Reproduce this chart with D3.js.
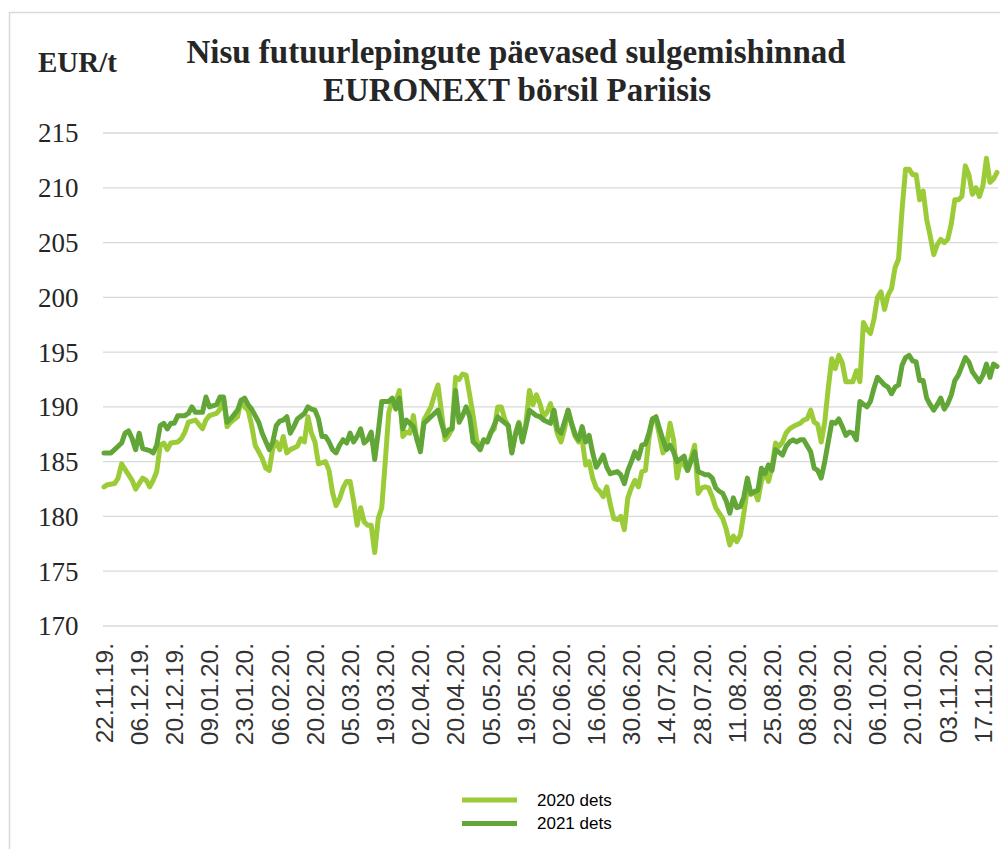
<!DOCTYPE html>
<html>
<head>
<meta charset="utf-8">
<script src="https://cdn.jsdelivr.net/npm/d3@7"></script>
<style>
  html, body { margin: 0; padding: 0; background: #fff; }
  svg { display: block; }
</style>
</head>
<body>
<svg id="chart" width="1000" height="849"></svg>
<script>
// ---- DATA (trading-day index, EUR/t) ----
const titleLines = ["Nisu futuurlepingute päevased sulgemishinnad", "EURONEXT börsil Pariisis"];
const unitLabel = "EUR/t";
const seriesNames = ["2020 dets", "2021 dets"];
const yTicks = [170, 175, 180, 185, 190, 195, 200, 205, 210, 215];
const xTickDays = [0,10,20,30,40,50,60,70,80,90,100,110,120,130,140,150,160,170,180,190,200,210,220,230,240,250];
const xTickLabels = ["22.11.19.","06.12.19.","20.12.19.","09.01.20.","23.01.20.","06.02.20.","20.02.20.","05.03.20.","19.03.20.","02.04.20.","20.04.20.","05.05.20.","19.05.20.","02.06.20.","16.06.20.","30.06.20.","14.07.20.","28.07.20.","11.08.20.","25.08.20.","08.09.20.","22.09.20.","06.10.20.","20.10.20.","03.11.20.","17.11.20."];
const lastDay = 254;

const dets2020 = [
 [0,182.7],[1,182.9],[3,183.0],[4,183.5],[5,184.8],[6,184.3],[8,183.3],[9,182.5],[10,183.0],[11,183.5],
 [12,183.3],[13,182.7],[14,183.3],[15,184.1],[16,186.5],[17,186.7],[18,186.1],[19,186.7],[21,186.8],[22,187.1],
 [23,187.7],[24,188.6],[26,188.8],[28,188.0],[29,188.8],[30,189.2],[32,189.4],[33,189.8],[34,190.8],[35,188.2],
 [36,188.6],[38,189.1],[39,190.6],[40,190.0],[41,189.7],[42,188.3],[43,186.5],[45,185.3],[46,184.4],[47,184.2],
 [48,186.2],[49,186.8],[50,186.1],[51,187.3],[52,185.8],[53,186.1],[55,186.4],[56,187.1],[57,186.8],[58,189.1],
 [59,187.6],[60,186.8],[61,184.8],[63,185.0],[64,184.2],[65,182.2],[66,181.0],[67,181.6],[68,182.6],[69,183.2],
 [70,183.2],[71,181.4],[72,179.2],[73,180.8],[74,179.5],[75,179.2],[76,179.2],[77,176.7],[78,179.8],[79,180.8],
 [80,185.0],[81,189.5],[82,190.6],[83,190.5],[84,191.5],[85,187.3],[86,187.7],[87,187.6],[88,189.2],[89,187.0],
 [90,186.2],[91,188.8],[93,190.0],[94,191.1],[95,192.0],[96,189.5],[97,187.0],[98,187.4],[99,188.0],[100,192.7],
 [101,192.5],[102,193.0],[103,192.9],[104,191.1],[105,189.2],[106,187.0],[107,186.1],[108,187.0],[109,186.8],[110,187.7],
 [111,188.0],[112,190.0],[113,190.0],[114,188.9],[115,188.2],[116,185.9],[117,187.6],[118,188.6],[119,187.0],[120,188.5],
 [121,191.5],[122,190.2],[123,191.1],[124,190.3],[125,189.1],[126,189.5],[127,190.3],[128,188.9],[129,187.5],[130,186.8],
 [131,188.0],[132,189.7],[133,188.4],[134,187.3],[135,186.8],[136,187.0],[137,184.7],[138,185.0],[139,183.5],[140,182.6],
 [141,182.3],[142,181.8],[143,182.7],[144,181.1],[145,179.8],[146,179.7],[147,180.0],[148,178.8],[149,181.7],[150,182.6],
 [151,183.3],[152,182.7],[153,184.1],[154,184.2],[155,187.1],[156,188.9],[157,188.9],[158,187.4],[159,185.8],[160,186.5],
 [161,188.5],[162,187.0],[163,183.5],[164,185.2],[165,184.7],[166,184.2],[168,186.5],[169,182.1],[170,182.6],[171,182.7],
 [172,182.6],[173,181.8],[174,180.8],[175,180.3],[176,179.8],[177,178.8],[178,177.4],[179,178.2],[180,177.7],[181,178.3],
 [182,180.3],[183,182.6],[184,182.0],[185,182.3],[186,181.5],[187,183.2],[188,184.1],[189,183.2],[190,184.5],[191,186.7],
 [192,186.4],[193,186.8],[194,187.6],[195,188.0],[196,188.2],[198,188.5],[199,188.8],[200,188.9],[201,189.7],[202,188.6],
 [203,188.4],[204,186.8],[205,188.6],[206,191.7],[207,194.4],[208,193.5],[209,194.7],[210,194.0],[211,192.3],[212,192.3],
 [213,192.3],[214,193.3],[215,192.3],[216,197.7],[217,197.1],[218,196.7],[219,198.0],[220,200.0],[221,200.5],[222,198.9],
 [223,200.2],[224,200.8],[225,202.7],[226,203.5],[227,208.0],[228,211.7],[229,211.7],[230,211.2],[231,211.2],[232,208.9],
 [233,209.7],[234,207.1],[235,205.6],[236,203.9],[237,204.8],[238,205.3],[239,205.0],[240,205.3],[241,206.7],[242,208.9],
 [243,208.9],[244,209.2],[245,212.0],[246,211.2],[247,209.4],[248,210.0],[249,209.2],[250,210.2],[251,212.7],[252,210.5],
 [253,210.8],[254,211.4]
];

const dets2021 = [
 [0,185.8],[2,185.8],[3,186.1],[5,186.7],[6,187.6],[7,187.8],[8,187.1],[9,186.1],[10,187.6],[11,186.2],
 [12,186.1],[13,186.0],[14,185.8],[15,186.5],[16,188.3],[17,188.5],[18,188.0],[19,188.5],[20,188.5],[21,189.2],
 [23,189.2],[24,189.4],[25,190.0],[26,189.5],[28,189.5],[29,190.9],[30,190.0],[32,190.2],[33,190.9],[34,190.9],
 [35,188.6],[36,188.9],[38,189.7],[39,190.6],[40,190.8],[41,190.2],[42,189.8],[44,188.6],[45,187.6],[47,186.1],
 [48,186.8],[49,188.3],[50,188.7],[51,188.8],[52,189.1],[53,187.6],[54,188.2],[55,188.9],[57,189.4],[58,190.0],
 [59,189.8],[60,189.7],[61,188.9],[62,187.3],[63,187.3],[64,186.8],[65,186.1],[66,185.8],[67,186.5],[68,187.0],
 [69,186.7],[70,187.6],[71,186.8],[72,187.3],[73,188.0],[74,186.7],[75,187.0],[76,187.7],[77,185.2],[78,187.7],
 [79,190.5],[81,190.5],[82,190.8],[83,189.8],[84,190.8],[85,188.0],[86,188.8],[87,188.5],[88,188.2],[90,185.9],
 [91,188.5],[93,189.1],[95,189.7],[96,188.5],[97,187.4],[98,187.9],[99,188.0],[100,191.5],[101,188.6],[102,189.2],
 [103,190.0],[104,189.1],[105,186.8],[106,186.5],[107,186.1],[108,187.0],[109,186.8],[110,187.6],[112,189.1],[113,188.8],
 [115,188.3],[116,185.8],[117,187.4],[118,188.5],[119,186.8],[120,188.2],[121,189.7],[123,189.2],[124,189.1],[125,188.8],
 [127,188.5],[128,189.7],[129,187.9],[130,187.6],[132,189.7],[133,188.5],[134,187.5],[135,187.0],[136,188.2],[137,186.8],
 [138,187.4],[139,185.8],[140,184.5],[141,185.0],[142,185.6],[143,184.5],[144,183.9],[146,184.1],[147,183.8],[148,183.0],
 [149,184.2],[150,185.0],[151,185.9],[152,185.3],[153,186.5],[154,186.6],[155,187.6],[156,188.9],[157,189.1],[158,188.0],
 [159,187.0],[160,186.1],[161,186.5],[162,185.9],[163,185.0],[165,185.5],[166,184.2],[168,185.9],[169,184.1],[171,183.8],
 [172,183.8],[173,183.5],[174,182.6],[175,182.3],[176,182.1],[177,181.4],[178,180.3],[179,181.7],[180,180.8],[181,180.9],
 [182,181.8],[183,183.5],[184,182.1],[186,182.4],[187,184.4],[188,183.9],[189,184.7],[190,184.2],[191,186.1],[193,185.6],
 [194,186.4],[195,186.8],[196,187.0],[197,186.8],[198,187.0],[199,187.0],[201,185.9],[202,184.4],[203,184.2],[204,183.5],
 [205,185.0],[206,186.8],[207,188.6],[208,188.5],[209,188.9],[210,188.2],[211,187.4],[212,187.7],[213,187.6],[214,187.0],
 [215,190.5],[217,190.0],[218,190.5],[219,191.7],[220,192.7],[222,192.0],[223,191.8],[224,191.2],[225,191.8],[226,192.0],
 [227,193.8],[228,194.5],[229,194.7],[230,194.2],[231,194.1],[232,192.4],[233,192.4],[234,190.8],[235,190.2],[236,189.7],
 [237,190.2],[238,190.8],[239,189.8],[240,190.3],[241,191.1],[242,192.4],[243,192.9],[245,194.5],[246,194.1],[247,193.2],
 [249,192.3],[250,192.9],[251,193.9],[252,192.7],[253,193.9],[254,193.7]
];

// ---- STYLE ----
const colors = ["#9BCC38", "#63A638"];

const svg = d3.select("#chart");

// chart border
svg.append("rect")
  .attr("x", 9.5).attr("y", 12.5)
  .attr("width", 1100).attr("height", 1000)
  .attr("fill", "none").attr("stroke", "#D9D9D9").attr("stroke-width", 1.5);

const x = d3.scaleLinear().domain([0, lastDay]).range([104, 997]);
const y = d3.scaleLinear().domain([170, 215]).range([626, 133]);

// gridlines
svg.append("g").selectAll("line").data(yTicks).join("line")
  .attr("x1", 103).attr("x2", 998)
  .attr("y1", d => y(d)).attr("y2", d => y(d))
  .attr("stroke", "#D9D9D9").attr("stroke-width", 1.3);

// y axis labels
svg.append("g").selectAll("text").data(yTicks).join("text")
  .attr("x", 38).attr("y", d => y(d)).attr("dy", "0.35em")
  .attr("font-family", "'Liberation Serif', 'Times New Roman', serif")
  .attr("font-size", 27).attr("fill", "#262626")
  .text(d => d);

// x axis labels (rotated)
svg.append("g").selectAll("text").data(xTickDays).join("text")
  .attr("transform", d => `translate(${x(d)},643) rotate(-90)`)
  .attr("text-anchor", "end").attr("dy", "0.36em")
  .attr("font-family", "'Liberation Sans', Arial, sans-serif")
  .attr("font-size", 24.5).attr("fill", "#333333")
  .text((d, i) => xTickLabels[i]);

// lines
const line = d3.line().x(d => x(d[0])).y(d => y(d[1])).curve(d3.curveLinear);
[dets2020, dets2021].forEach((s, i) => {
  svg.append("path").datum(s)
    .attr("d", line)
    .attr("fill", "none").attr("stroke", colors[i])
    .attr("stroke-width", 5)
    .attr("stroke-linejoin", "round").attr("stroke-linecap", "round");
});

// title
svg.append("text").attr("x", 516).attr("y", 63).attr("text-anchor", "middle")
  .attr("font-family", "'Liberation Serif', 'Times New Roman', serif")
  .attr("font-weight", "bold").attr("font-size", 33).attr("fill", "#262626")
  .text(titleLines[0]);
svg.append("text").attr("x", 517).attr("y", 101).attr("text-anchor", "middle")
  .attr("font-family", "'Liberation Serif', 'Times New Roman', serif")
  .attr("font-weight", "bold").attr("font-size", 33).attr("fill", "#262626")
  .text(titleLines[1]);

// unit label
svg.append("text").attr("x", 38).attr("y", 72)
  .attr("font-family", "'Liberation Serif', 'Times New Roman', serif")
  .attr("font-weight", "bold").attr("font-size", 29).attr("fill", "#262626")
  .text(unitLabel);

// legend
const legend = svg.append("g");
seriesNames.forEach((name, i) => {
  const ly = 800 + i * 23.5;
  legend.append("line").attr("x1", 462).attr("x2", 517)
    .attr("y1", ly).attr("y2", ly)
    .attr("stroke", colors[i]).attr("stroke-width", 5);
  legend.append("text").attr("x", 537).attr("y", ly).attr("dy", "0.35em")
    .attr("font-family", "'Liberation Sans', Arial, sans-serif")
    .attr("font-size", 17).attr("fill", "#000")
    .text(name);
});
</script>
</body>
</html>
